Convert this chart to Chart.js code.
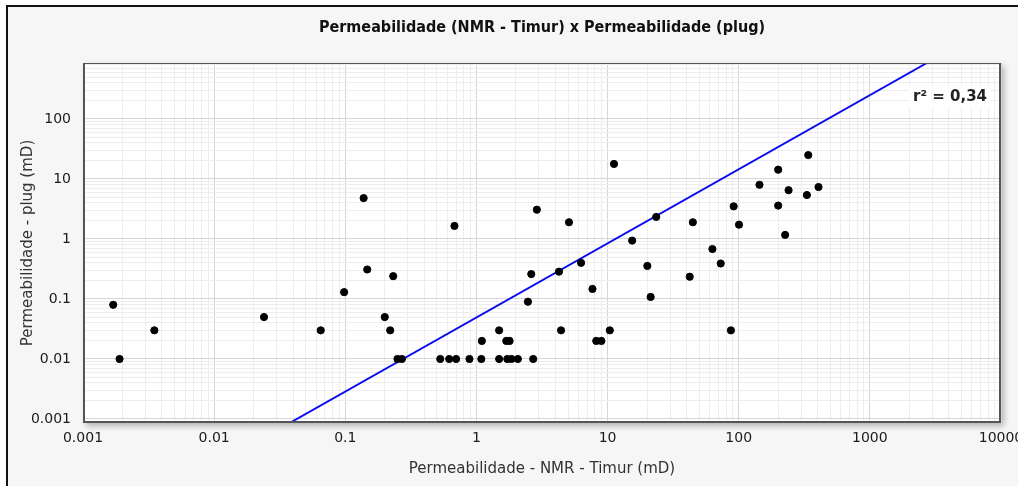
<!DOCTYPE html>
<html>
<head>
<meta charset="utf-8">
<script src="https://cdn.jsdelivr.net/npm/chart.js@4.4.1/dist/chart.umd.min.js"></script>
<style>
  html, body { margin: 0; padding: 0; background: #fff; }
  #wrap { width: 1018px; height: 486px; position: relative; }
</style>
</head>
<body>
<div id="wrap"><canvas id="permChart"></canvas></div>
<script>
// Permeabilidade NMR (Timur) x plug, mD
const nmrPerm = [
    0.0017, 0.0019, 0.0035, 0.024, 0.065, 0.098, 0.138, 0.147, 0.2, 0.22,
    0.232, 0.25, 0.27, 0.53, 0.62, 0.68, 0.70, 0.885, 1.09, 1.1,
    1.49, 1.49, 1.69, 1.79, 1.72, 1.85, 2.07, 2.47, 2.62, 2.71,
    2.89, 4.26, 4.42, 5.08, 6.28, 7.67, 8.2, 8.97, 10.4, 11.2,
    15.4, 20.1, 21.3, 23.5, 42.3, 44.7, 63, 72.9, 87.2, 91.5,
    100.5, 144, 200, 200, 226, 240, 331, 339, 406
];
const plugPerm = [
    0.08, 0.01, 0.03, 0.05, 0.03, 0.13, 4.8, 0.31, 0.05, 0.03,
    0.24, 0.01, 0.01, 0.01, 0.01, 1.65, 0.01, 0.01, 0.01, 0.02,
    0.03, 0.01, 0.02, 0.02, 0.01, 0.01, 0.01, 0.09, 0.26, 0.01,
    3.08, 0.285, 0.03, 1.9, 0.40, 0.147, 0.02, 0.02, 0.03, 17.8,
    0.94, 0.355, 0.108, 2.33, 0.235, 1.9, 0.68, 0.39, 0.03, 3.5,
    1.73, 8.0, 14.3, 3.6, 1.17, 6.5, 5.4, 25, 7.35
];

// regression line end points (NMR, plug)
const fitNmr = [0.0376, 2723];
const fitPlug = [0.000857, 857];
const rSquared = '0,34';

const xMin = 0.001, xMax = 10000;
const yMin = 0.000857, yMax = 857;

// 1..9 x 10^k inside [lo, hi]
function logTicks(lo, hi) {
    const out = [];
    for (let e = Math.floor(Math.log10(lo)); e <= Math.ceil(Math.log10(hi)); e++) {
        for (let m = 1; m <= 9; m++) {
            const v = m * Math.pow(10, e);
            if (v >= lo * 0.9999 && v <= hi * 1.0001) out.push(parseFloat(v.toPrecision(6)));
        }
    }
    return out;
}
function isDecade(v) {
    const l = Math.log10(v);
    return Math.abs(l - Math.round(l)) < 1e-6;
}
function decadeLabel(v) {
    if (!isDecade(v)) return '';
    const e = Math.round(Math.log10(v));
    return e < 0 ? v.toFixed(-e) : String(Math.round(v));
}

const points = nmrPerm.map((x, i) => ({ x: x, y: plugPerm[i] }));
const fitLine = fitNmr.map((x, i) => ({ x: x, y: fitPlug[i] }));

// frame, plot background with shadow, r² label
const decorPlugin = {
    id: 'decor',
    beforeDraw(chart) {
        const c = chart.ctx;
        const a = chart.chartArea;
        c.save();
        c.fillStyle = '#ffffff';
        c.fillRect(0, 0, chart.width, chart.height);
        c.fillStyle = '#f6f6f6';
        c.fillRect(7, 5, chart.width - 7, chart.height - 5);
        c.fillStyle = '#111111';
        c.fillRect(6, 5, chart.width - 6, 2);
        c.fillRect(6, 5, 2, chart.height - 5);
        c.shadowColor = 'rgba(0,0,0,0.28)';
        c.shadowBlur = 6;
        c.shadowOffsetX = 3;
        c.shadowOffsetY = 3;
        c.fillStyle = '#ffffff';
        c.fillRect(a.left, a.top, a.right - a.left, a.bottom - a.top);
        c.restore();
    },
    afterDatasetsDraw(chart) {
        const c = chart.ctx;
        const a = chart.chartArea;
        c.save();
        c.strokeStyle = '#555555';
        c.lineWidth = 1;
        c.strokeRect(a.left + 0.5, a.top + 0.5, a.right - a.left - 1, a.bottom - a.top - 1);
        c.lineWidth = 2;
        c.beginPath();
        c.moveTo(a.left + 1, a.top);
        c.lineTo(a.left + 1, a.bottom - 1);
        c.lineTo(a.right - 1, a.bottom - 1);
        c.lineTo(a.right - 1, a.top);
        c.stroke();

        const text = 'r² = ' + rSquared;
        c.font = 'bold 15px "DejaVu Sans"';
        const w = c.measureText(text).width;
        const tx = 987 - w, ty = 97;
        c.fillStyle = '#ffffff';
        c.fillRect(tx - 4, ty - 11, w + 8, 22);
        c.fillStyle = '#222222';
        c.textBaseline = 'middle';
        c.fillText(text, tx, ty);
        c.restore();
    }
};

const ctx = document.getElementById('permChart').getContext('2d');
let myChart = new Chart(ctx, {
    type: 'scatter',
    data: {
        datasets: [{
            label: 'amostras',
            data: points,
            backgroundColor: '#000000',
            borderColor: '#000000',
            pointRadius: 3.6,
            pointHoverRadius: 3.6,
            order: 1
        }, {
            label: 'ajuste',
            type: 'line',
            data: fitLine,
            borderColor: '#0a0af0',
            borderWidth: 2,
            pointRadius: 0,
            fill: false,
            order: 2
        }]
    },
    options: {
        responsive: true,
        maintainAspectRatio: false,
        animation: false,
        devicePixelRatio: 1,
        layout: { padding: { left: 0, right: 17, top: 0, bottom: 0 } },
        plugins: {
            legend: { display: false },
            tooltip: { enabled: false },
            title: {
                display: true,
                fullSize: false,
                text: 'Permeabilidade (NMR - Timur) x Permeabilidade (plug)',
                color: '#111111',
                font: { family: '"DejaVu Sans Condensed", "DejaVu Sans"', size: 16, weight: 'bold', lineHeight: 1.2 },
                padding: { top: 18.5, bottom: 25.3 }
            }
        },
        scales: {
            x: {
                type: 'logarithmic',
                min: xMin,
                max: xMax,
                afterBuildTicks: (scale) => { scale.ticks = logTicks(xMin, xMax).map(v => ({ value: v })); },
                afterFit: (scale) => { scale.height = 63; scale.paddingLeft = 0; scale.paddingRight = 0; },
                border: { display: false },
                grid: {
                    drawTicks: false,
                    lineWidth: 1,
                    color: (c) => (c.tick && isDecade(c.tick.value)) ? '#d6d6d6' : '#ededed'
                },
                ticks: {
                    autoSkip: false,
                    maxRotation: 0,
                    padding: 7,
                    color: '#1a1a1a',
                    font: { family: '"DejaVu Sans"', size: 14 },
                    callback: (v) => decadeLabel(v)
                },
                title: {
                    display: true,
                    text: 'Permeabilidade - NMR - Timur (mD)',
                    color: '#333333',
                    font: { family: '"DejaVu Sans"', size: 15, lineHeight: 1.2 },
                    padding: { top: 0, bottom: 8 }
                }
            },
            y: {
                type: 'logarithmic',
                min: yMin,
                max: yMax,
                afterBuildTicks: (scale) => { scale.ticks = logTicks(yMin, yMax).map(v => ({ value: v })); },
                afterFit: (scale) => { scale.width = 83; scale.paddingTop = 0; scale.paddingBottom = 0; },
                border: { display: false },
                grid: {
                    drawTicks: false,
                    lineWidth: 1,
                    color: (c) => (c.tick && isDecade(c.tick.value)) ? '#d6d6d6' : '#ededed'
                },
                ticks: {
                    autoSkip: false,
                    padding: 12,
                    color: '#1a1a1a',
                    font: { family: '"DejaVu Sans"', size: 14 },
                    callback: (v) => decadeLabel(v)
                },
                title: {
                    display: true,
                    text: 'Permeabilidade - plug (mD)',
                    color: '#333333',
                    font: { family: '"DejaVu Sans"', size: 15, lineHeight: 1.2 },
                    padding: { top: 19, bottom: 0 }
                }
            }
        }
    },
    plugins: [decorPlugin]
});
</script>
</body>
</html>
